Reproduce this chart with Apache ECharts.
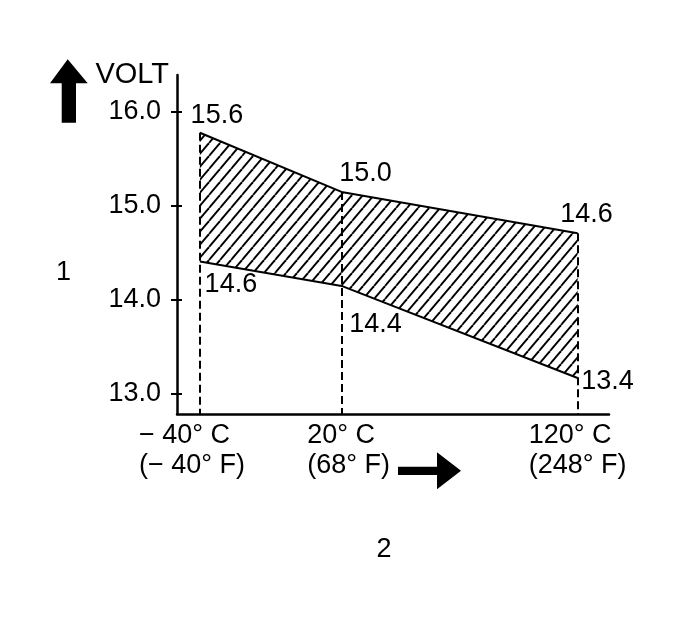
<!DOCTYPE html>
<html><head><meta charset="utf-8">
<script src="https://cdn.jsdelivr.net/npm/echarts@6/dist/echarts.min.js"></script>
<style>html,body{margin:0;padding:0;background:#fff}#chart{width:678px;height:637px}</style>
</head><body><div id="chart"></div>
<script>
// ---- data ----
const tempsC = [-40, 20, 120];
const tempsF = [-40, 68, 248];
const upperVolt = [15.78, 15.15, 14.71];
const lowerVolt = [14.41, 14.15, 13.17];
const upperLabels = ['15.6', '15.0', '14.6'];
const lowerLabels = ['14.6', '14.4', '13.4'];
const voltTicks = [13.0, 14.0, 15.0, 16.0];
const yAxisName = 'VOLT';
const leftLabel = '1';
const bottomLabel = '2';

// ---- style ----
const FONT = '"Liberation Sans", Arial, Helvetica, sans-serif';
const FS = 27;
const X_MIN = -49.7, X_MAX = 133.3, Y_MIN = 12.787, Y_MAX = 16.394;

function hatchCanvas() {
  const w = 11, h = 13;
  const c = document.createElement('canvas');
  c.width = w; c.height = h;
  const g = c.getContext('2d');
  g.strokeStyle = '#000'; g.lineWidth = 1.9;
  [-w, 0, w].forEach(o => { g.beginPath(); g.moveTo(o, h); g.lineTo(o + w, 0); g.stroke(); });
  return c;
}
const hatch = { image: hatchCanvas(), repeat: 'repeat' };

const fmtT = (v, unit) => (v < 0 ? '\u2212 ' + Math.abs(v) : String(v)) + '\u00B0 ' + unit;

const baseRich = { fontSize: FS, lineHeight: 30, fontFamily: FONT, color: '#000', align: 'left' };
const rich = {
  w0: Object.assign({}, baseRich, { width: 122 }),
  w1: Object.assign({}, baseRich, { padding: [0, 0, 0, 14] }),
  w2: baseRich
};

const upOff = [[17, -17], [24, -18], [9, -19]];
const loOff = [[31, 23], [34, 39], [30, 4]];

const labelBase = { show: true, position: 'inside', fontSize: FS, fontFamily: FONT, color: '#000',
  align: 'center', verticalAlign: 'middle', textBorderWidth: 0 };

const chart = echarts.init(document.getElementById('chart'), null, { renderer: 'canvas' });
chart.setOption({
  animation: false,
  backgroundColor: '#fff',
  grid: { left: 177, right: 69, top: 75, bottom: 223, containLabel: false, outerBoundsMode: 'none' },
  xAxis: {
    type: 'value', min: X_MIN, max: X_MAX,
    axisLine: { show: true, onZero: false, lineStyle: { color: '#000', width: 2.5 } },
    axisTick: { show: false },
    splitLine: { show: false },
    axisLabel: {
      show: true, customValues: tempsC, margin: 7, align: 'center', verticalAlign: 'top',
      formatter: function (value) {
        const i = tempsC.indexOf(value);
        const k = 'w' + i;
        return '{' + k + '|' + fmtT(tempsC[i], 'C') + '}\n{' + k + '|(' + fmtT(tempsF[i], 'F') + ')}';
      },
      rich: rich
    }
  },
  yAxis: [{
    type: 'value', min: Y_MIN, max: Y_MAX,
    name: yAxisName, nameLocation: 'end', nameGap: 0,
    nameTextStyle: { fontSize: 29, fontFamily: FONT, color: '#000', align: 'right', verticalAlign: 'middle', padding: [0, 8, 0, 0] },
    axisLine: { show: true, onZero: false, lineStyle: { color: '#000', width: 2.5 } },
    axisTick: { show: true, customValues: voltTicks, length: 6, inside: false, lineStyle: { color: '#000', width: 2 } },
    splitLine: { show: false },
    axisLabel: { show: true, customValues: voltTicks, margin: 16, fontSize: FS, fontFamily: FONT, color: '#000',
      formatter: v => v.toFixed(1) }
  }, {
    type: 'value', min: Y_MIN, max: Y_MAX, position: 'left', offset: 0,
    axisLine: { show: false, onZero: false },
    axisTick: { show: true, customValues: voltTicks, length: 5, inside: true, lineStyle: { color: '#000', width: 2 } },
    splitLine: { show: false },
    axisLabel: { show: false }
  }],
  series: [{
    type: 'custom',
    silent: true,
    z: 1,
    data: tempsC.map((t, i) => [t, lowerVolt[i], upperVolt[i]]),
    renderItem: function (params, api) {
      const i = params.dataIndex;
      if (i >= tempsC.length - 1) return;
      const pts = [
        api.coord([tempsC[i], upperVolt[i]]),
        api.coord([tempsC[i + 1], upperVolt[i + 1]]),
        api.coord([tempsC[i + 1], lowerVolt[i + 1]]),
        api.coord([tempsC[i], lowerVolt[i]])
      ];
      return { type: 'polygon', shape: { points: pts }, style: { fill: hatch, stroke: null } };
    }
  }, {
    type: 'line', name: 'upper', z: 3,
    symbol: 'circle', symbolSize: 1, itemStyle: { color: 'rgba(0,0,0,0)' },
    lineStyle: { color: '#000', width: 2 },
    emphasis: { disabled: true },
    data: tempsC.map((t, i) => ({ value: [t, upperVolt[i]], label: { offset: upOff[i] } })),
    label: Object.assign({}, labelBase, { formatter: p => upperLabels[p.dataIndex] }),
    markLine: {
      silent: true, symbol: ['none', 'none'], label: { show: false },
      lineStyle: { color: '#000', width: 2, type: [8, 4] },
      emphasis: { disabled: true },
      data: tempsC.map((t, i) => [{ coord: [t, upperVolt[i]] }, { coord: [t, Y_MIN] }])
    }
  }, {
    type: 'line', name: 'lower', z: 3,
    symbol: 'circle', symbolSize: 1, itemStyle: { color: 'rgba(0,0,0,0)' },
    lineStyle: { color: '#000', width: 2 },
    emphasis: { disabled: true },
    data: tempsC.map((t, i) => ({ value: [t, lowerVolt[i]], label: { offset: loOff[i] } })),
    label: Object.assign({}, labelBase, { formatter: p => lowerLabels[p.dataIndex] })
  }],
  graphic: [
    { type: 'polygon', shape: { points: [[67.7, 59.3], [87.7, 83.3], [76, 83.3], [76, 122.7], [61.7, 122.7], [61.7, 83.3], [50, 83.3]] },
      style: { fill: '#000' } },
    { type: 'polygon', shape: { points: [[398, 466.7], [437, 466.7], [437, 452.3], [461, 470.8], [437, 489.3], [437, 475], [398, 475]] },
      style: { fill: '#000' } },
    { type: 'text', x: 63.5, y: 273, style: { text: leftLabel, fontSize: FS, fontFamily: FONT, fill: '#000', align: 'center', verticalAlign: 'middle' } },
    { type: 'text', x: 384, y: 550, style: { text: bottomLabel, fontSize: FS, fontFamily: FONT, fill: '#000', align: 'center', verticalAlign: 'middle' } }
  ]
});
</script>
</body></html>
